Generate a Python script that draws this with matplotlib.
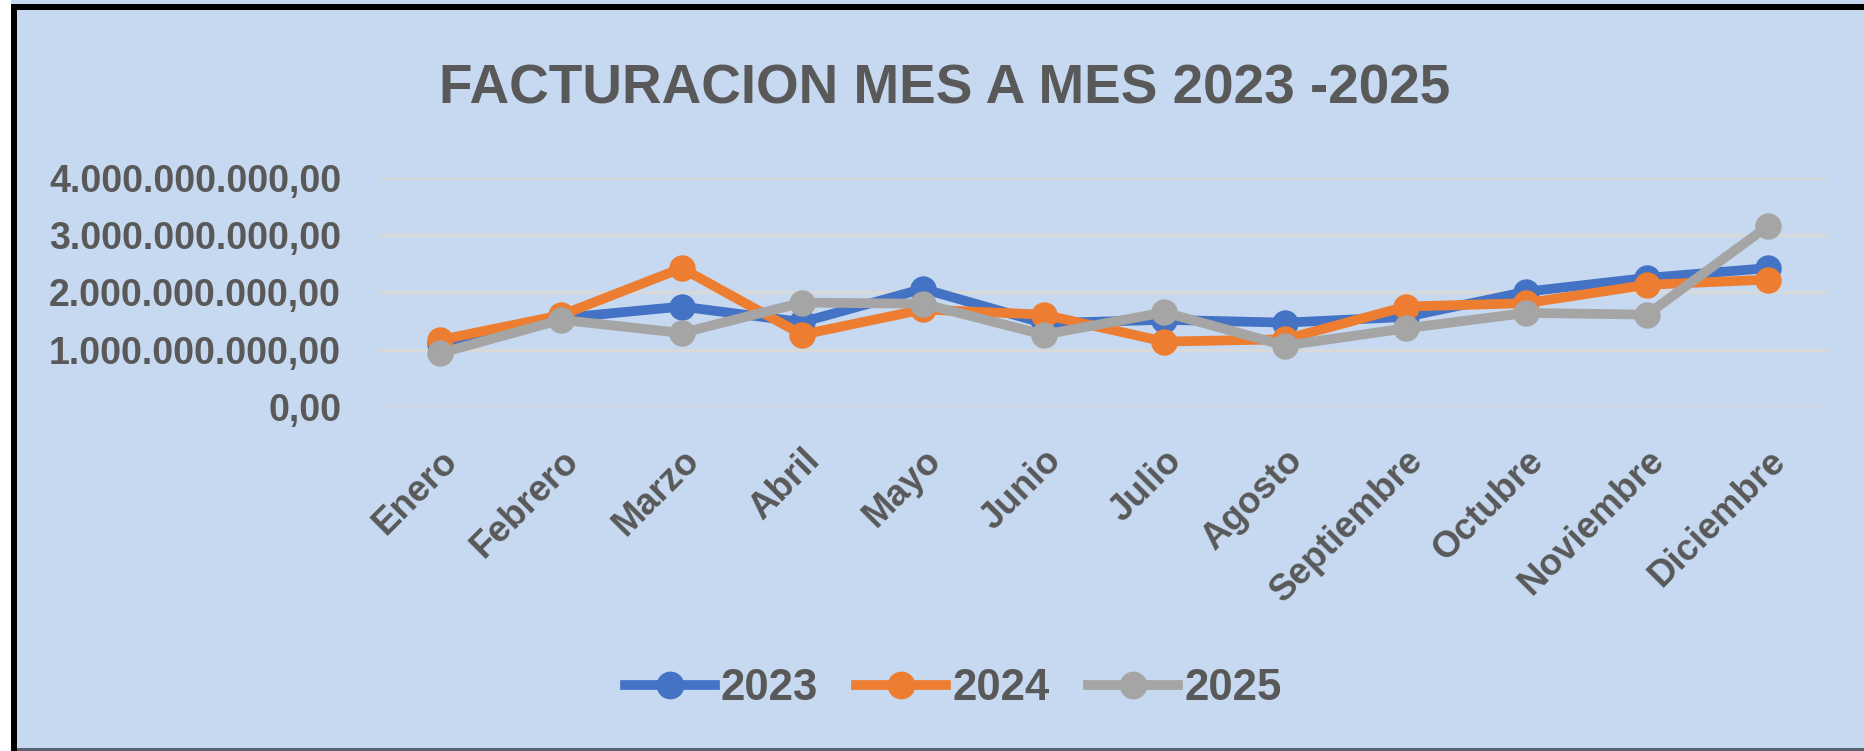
import matplotlib
matplotlib.use("Agg")
import matplotlib.pyplot as plt
from matplotlib.ticker import FuncFormatter, MultipleLocator
from matplotlib.patches import Rectangle
from matplotlib.lines import Line2D

months = ["Enero", "Febrero", "Marzo", "Abril", "Mayo", "Junio", "Julio",
          "Agosto", "Septiembre", "Octubre", "Noviembre", "Diciembre"]
v2023 = [1.10e9, 1.55e9, 1.75e9, 1.48e9, 2.06e9, 1.46e9, 1.52e9, 1.47e9, 1.57e9, 2.01e9, 2.25e9, 2.42e9]
v2024 = [1.17e9, 1.60e9, 2.42e9, 1.26e9, 1.70e9, 1.61e9, 1.14e9, 1.18e9, 1.75e9, 1.81e9, 2.13e9, 2.22e9]
v2025 = [0.94e9, 1.52e9, 1.29e9, 1.82e9, 1.80e9, 1.26e9, 1.65e9, 1.07e9, 1.37e9, 1.64e9, 1.61e9, 3.15e9]
series_names = ["2023", "2024", "2025"]
series_colors = ["#4472C4", "#ED7D31", "#A5A5A5"]
title = "FACTURACION MES A MES 2023 -2025"

W, H = 1864, 751
fig = plt.figure(figsize=(W / 100, H / 100), dpi=100)
fig.patch.set_facecolor("white")

BG = "#C6D9F0"
TXT = "#595959"
FONT = "Liberation Sans"

def fx(px):
    return px / W

def fy(py):
    return 1 - py / H

# chart area background and frame
fig.patches.append(Rectangle((fx(11), fy(751)), fx(1864 - 11), 751 / H,
                             transform=fig.transFigure, facecolor=BG, edgecolor="none", zorder=-10))
fig.patches.append(Rectangle((fx(11), fy(751)), fx(6), (751 - 4) / H,
                             transform=fig.transFigure, facecolor="black", edgecolor="none", zorder=-9))
fig.patches.append(Rectangle((fx(11), fy(10)), fx(1864 - 11), 6 / H,
                             transform=fig.transFigure, facecolor="black", edgecolor="none", zorder=-9))
fig.patches.append(Rectangle((fx(17), fy(751)), fx(1864 - 17), 3 / H,
                             transform=fig.transFigure, facecolor="#5A6470", edgecolor="none", zorder=-9))

ax = fig.add_axes([fx(380), fy(407), fx(1828 - 380), (407 - 177.5) / H])
ax.set_zorder(5)
ax.set_facecolor("none")
x = list(range(len(months)))
for vals, name, col in zip([v2023, v2024, v2025], series_names, series_colors):
    ax.plot(x, vals, color=col, lw=7, marker="o", ms=18, mec=col, mfc=col,
            label=name, solid_capstyle="round", solid_joinstyle="round", zorder=3)

ax.set_xlim(-0.5, len(months) - 0.5)
ax.set_ylim(0, 4e9)
ax.yaxis.set_major_locator(MultipleLocator(1e9))

def fmt(v, pos):
    s = f"{v:,.2f}"
    return s.replace(",", "X").replace(".", ",").replace("X", ".")

ax.yaxis.set_major_formatter(FuncFormatter(fmt))
ax.grid(axis="y", color="#D9D9D9", lw=2.4, zorder=1)
ax.set_axisbelow(True)
for s in ax.spines.values():
    s.set_visible(False)
ax.set_xticks(x)
ax.set_xticklabels(months)
ax.tick_params(axis="both", length=0)
ax.tick_params(axis="y", pad=28)
ax.tick_params(axis="x", pad=26)
for lab in ax.get_yticklabels():
    lab.set_fontfamily(FONT)
    lab.set_fontweight("bold")
    lab.set_fontsize(27)
    lab.set_color(TXT)
for lab in ax.get_xticklabels():
    lab.set_fontfamily(FONT)
    lab.set_fontweight("bold")
    lab.set_fontsize(26.5)
    lab.set_color(TXT)
    lab.set_rotation(45)
    lab.set_ha("right")
    lab.set_va("top")
    lab.set_rotation_mode("anchor")

fig.text(fx(945), fy(103), title, ha="center", va="baseline",
         fontfamily=FONT, fontweight="bold", fontsize=39.5, color=TXT)

handles = [Line2D([0], [0], color=c, lw=7, marker="o", ms=19, mfc=c, mec=c) for c in series_colors]
leg = fig.legend(handles, series_names, loc="center", bbox_to_anchor=(fx(953), fy(689)),
                 ncol=3, frameon=False, handlelength=2.06, handletextpad=0.14,
                 columnspacing=0.87, prop={"family": FONT, "weight": "bold", "size": 31.5})
for t in leg.get_texts():
    t.set_color(TXT)

fig.savefig("out.png", dpi=100, facecolor=fig.get_facecolor())
